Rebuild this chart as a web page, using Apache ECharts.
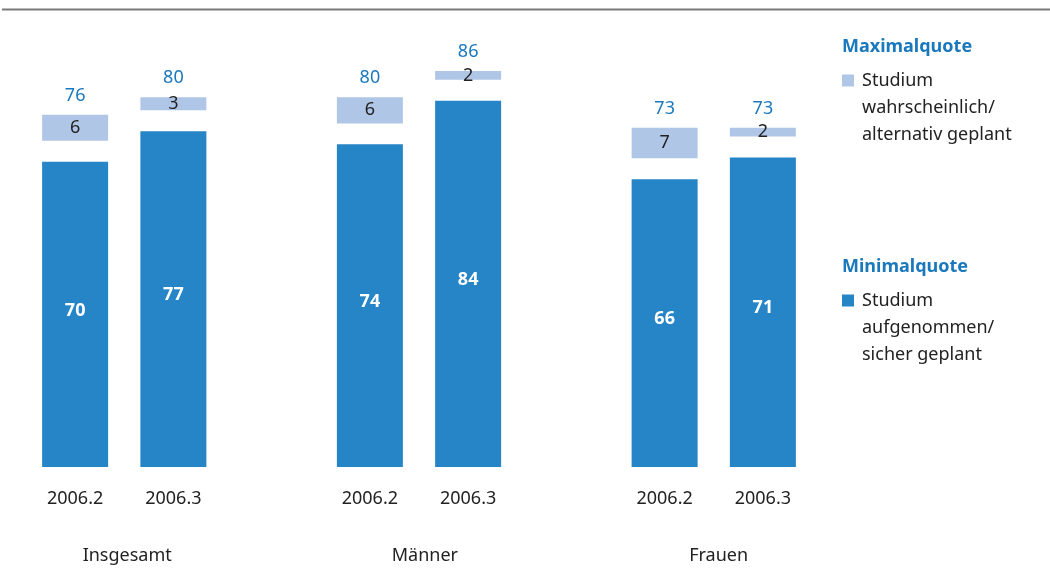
<!DOCTYPE html>
<html>
<head>
<meta charset="utf-8">
<script src="https://cdn.jsdelivr.net/npm/echarts@6/dist/echarts.min.js"></script>
<style>
  html, body { margin: 0; padding: 0; background: #fff; }
  #chart { width: 1050px; height: 574px; }
</style>
</head>
<body>
<div id="chart"></div>
<script>
// Kategorien (leere Einträge = Abstand zwischen den Gruppen)
const categories = ['2006.2', '2006.3', '', '2006.2', '2006.3', '', '2006.2', '2006.3'];
const groups = ['Insgesamt', 'Männer', 'Frauen'];
const groupPos = [1.03, 4.06, 7.05]; // Mitte jeder Gruppe auf der Hilfsachse
const minimalquote = [70, 77, null, 74, 84, null, 66, 71];   // Studium aufgenommen/sicher geplant
const zusatz = [6, 3, null, 6, 2, null, 7, 2];               // Studium wahrscheinlich/alternativ geplant
const maximalquote = [76, 80, null, 80, 86, null, 73, 73];

const GAP = 4.8; // weißer Abstand zwischen den Segmenten
const font = 'Noto Sans';
const darkBlue = '#2585c7';
const lightBlue = '#b0c6e7';
const titleBlue = '#1a78bd';

const gapData = minimalquote.map(v => (v == null ? null : GAP));
const topData = minimalquote.map(v => (v == null ? null : 0));

const nameMax = 'Studium wahrscheinlich/ alternativ geplant';
const nameMin = 'Studium aufgenommen/ sicher geplant';

// zwei Leerzeilen davor, damit "Studium" auf Höhe des Symbols steht
const legendText = n => '\n\n' + n.replace('/ ', '/\n').replace('Studium ', 'Studium\n');

let chart = echarts.init(document.getElementById('chart'));
chart.setOption({
    animation: false,
    textStyle: { fontFamily: font },
    grid: { left: 26, right: 238, top: 31, bottom: 107 },
    xAxis: [
        {
            type: 'category',
            data: categories,
            axisLine: { show: false },
            axisTick: { show: false },
            axisLabel: { color: '#222', fontSize: 18, margin: 23, fontFamily: font, interval: 0 }
        },
        {
            type: 'value',
            position: 'bottom',
            min: 0,
            max: 8,
            offset: 72,
            axisLine: { show: false },
            axisTick: { show: false },
            splitLine: { show: false },
            axisLabel: {
                customValues: groupPos,
                color: '#222',
                fontSize: 18,
                fontFamily: font,
                formatter: v => groups[groupPos.indexOf(v)] || ''
            }
        }
    ],
    yAxis: { type: 'value', min: 0, max: 100, show: false },
    legend: [
        {
            data: [nameMax],
            left: 842,
            top: 13,
            orient: 'vertical',
            icon: 'rect',
            itemWidth: 12,
            itemHeight: 12,
            itemGap: 0,
            padding: 0,
            selectedMode: false,
            formatter: legendText,
            textStyle: { color: '#222', fontSize: 18, lineHeight: 27, fontFamily: font, padding: [0, 0, 0, 3] }
        },
        {
            data: [nameMin],
            left: 842,
            top: 233,
            orient: 'vertical',
            icon: 'rect',
            itemWidth: 12,
            itemHeight: 12,
            itemGap: 0,
            padding: 0,
            selectedMode: false,
            formatter: legendText,
            textStyle: { color: '#222', fontSize: 18, lineHeight: 27, fontFamily: font, padding: [0, 0, 0, 3] }
        }
    ],
    graphic: [
        { type: 'line', shape: { x1: 2, y1: 9.5, x2: 1050, y2: 9.5 }, style: { stroke: '#7a7a7a', lineWidth: 2 } },
        { type: 'text', left: 842, top: 38, style: { text: 'Maximalquote', fill: titleBlue, font: 'bold 18px "Noto Sans"' } },
        { type: 'text', left: 842, top: 258, style: { text: 'Minimalquote', fill: titleBlue, font: 'bold 18px "Noto Sans"' } }
    ],
    series: [
        {
            name: nameMin,
            type: 'bar',
            stack: 'q',
            barWidth: 66,
            data: minimalquote,
            itemStyle: { color: darkBlue },
            label: { show: true, position: 'inside', offset: [0, -4], color: '#fff', fontWeight: 'bold', fontSize: 18, fontFamily: font }
        },
        {
            name: 'gap',
            type: 'bar',
            stack: 'q',
            data: gapData,
            itemStyle: { color: 'rgba(0,0,0,0)' },
            silent: true
        },
        {
            name: nameMax,
            type: 'bar',
            stack: 'q',
            data: zusatz,
            itemStyle: { color: lightBlue },
            label: { show: true, position: 'inside', color: '#222', fontSize: 18, fontFamily: font }
        },
        {
            name: 'total',
            type: 'bar',
            stack: 'q',
            data: topData,
            itemStyle: { color: 'rgba(0,0,0,0)' },
            silent: true,
            label: {
                show: true,
                position: 'top',
                distance: 10,
                color: titleBlue,
                fontSize: 18,
                fontFamily: font,
                formatter: p => maximalquote[p.dataIndex]
            }
        }
    ]
});
</script>
</body>
</html>
